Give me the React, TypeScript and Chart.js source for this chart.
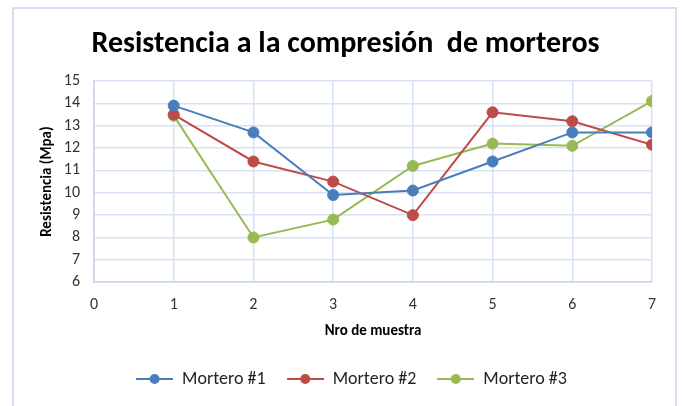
import { useEffect, useRef } from "react";
import { Chart, registerables } from "chart.js";
Chart.register(...registerables);

const samples = [1, 2, 3, 4, 5, 6, 7];
const mortero1 = [13.9, 12.7, 9.9, 10.1, 11.4, 12.7, 12.7];
const mortero2 = [13.5, 11.4, 10.5, 9.0, 13.6, 13.2, 12.15];
const mortero3 = [13.45, 8.0, 8.8, 11.2, 12.2, 12.1, 14.1];
const seriesNames = ["Mortero #1", "Mortero #2", "Mortero #3"];
const seriesColors = ["#4A7EBB", "#BE4B48", "#98B954"];
const titleText = "Resistencia a la compresión  de morteros";
const xTitle = "Nro de muestra";
const yTitle = "Resistencia (Mpa)";

const FONT = "Calibri, Carlito, Lato, sans-serif";

function legendIcon(color: string) {
  const c = document.createElement("canvas");
  c.width = 37;
  c.height = 12;
  const ctx = c.getContext("2d")!;
  ctx.strokeStyle = color;
  ctx.lineWidth = 2;
  ctx.beginPath();
  ctx.moveTo(0, 6);
  ctx.lineTo(37, 6);
  ctx.stroke();
  ctx.fillStyle = color;
  ctx.beginPath();
  ctx.arc(18.5, 6, 5, 0, Math.PI * 2);
  ctx.fill();
  return c;
}

// centre title and legend on the whole chart frame rather than the padded area
const shiftBlocks = {
  id: "shiftBlocks",
  afterLayout(chart: any) {
    const t = chart.titleBlock;
    if (t) {
      t.left += 10;
      t.right += 10;
    }
    const l = chart.legend;
    if (l) {
      l.left += 16;
      l.right += 16;
    }
  },
};

export default function App() {
  const ref = useRef<HTMLCanvasElement>(null);
  useEffect(() => {
    const all = [mortero1, mortero2, mortero3];
    const chart = new Chart(ref.current!, {
      type: "line",
      data: {
        datasets: all.map((vals, i) => ({
          label: seriesNames[i],
          data: samples.map((x, j) => ({ x, y: vals[j] })),
          borderColor: seriesColors[i],
          backgroundColor: seriesColors[i],
          borderWidth: 2,
          pointRadius: 5.5,
          pointHoverRadius: 5.5,
          pointBorderWidth: 1,
          pointStyle: "circle",
          tension: 0,
        })),
      },
      plugins: [shiftBlocks],
      options: {
        animation: false,
        responsive: false,
        maintainAspectRatio: false,
        layout: { padding: { left: 19, right: 30, top: 0, bottom: 8 } },
        plugins: {
          title: {
            display: true,
            text: titleText,
            color: "#000",
            font: { family: FONT, size: 30, weight: "bold" },
            padding: { top: 26, bottom: 19 },
          },
          legend: {
            position: "bottom",
            labels: {
              usePointStyle: true,
              pointStyleWidth: 37,
              color: "#222",
              font: { family: FONT, size: 18 },
              padding: 21,
              generateLabels: (ch: any) =>
                ch.data.datasets.map((d: any, i: number) => ({
                  text: d.label,
                  fillStyle: seriesColors[i],
                  strokeStyle: seriesColors[i],
                  pointStyle: legendIcon(seriesColors[i]),
                  datasetIndex: i,
                  hidden: false,
                  fontColor: "#222",
                })),
            },
          },
          tooltip: { enabled: false },
        },
        scales: {
          x: {
            type: "linear",
            min: 0,
            max: 7,
            afterFit: (s: any) => {
              s.height -= 3;
            },
            ticks: {
              stepSize: 1,
              autoSkip: false,
              color: "#333",
              font: { family: FONT, size: 16, lineHeight: 0.8 },
              padding: 16,
            },
            grid: { color: "#D6E2F3", lineWidth: 1.5, drawTicks: false },
            border: { color: "#C5D6EE", width: 1.5 },
            title: {
              display: true,
              text: xTitle,
              color: "#000",
              font: { family: FONT, size: 15, weight: "bold", lineHeight: 1.0 },
              padding: { top: 0, bottom: 10 },
            },
          },
          y: {
            min: 6,
            max: 15,
            afterFit: (s: any) => {
              s.width = 75;
            },
            ticks: {
              stepSize: 1,
              autoSkip: false,
              color: "#333",
              font: { family: FONT, size: 16 },
              padding: 14,
            },
            grid: { color: "#D6E2F3", lineWidth: 1.5, drawTicks: false },
            border: { color: "#C5D6EE", width: 1.5 },
            title: {
              display: true,
              text: yTitle,
              color: "#000",
              font: { family: FONT, size: 15, weight: "bold" },
              padding: { top: 19, bottom: 0 },
            },
          },
        },
      },
    });
    return () => chart.destroy();
  }, []);
  return (
    <div style={{ position: "fixed", left: 0, top: 0, width: 682, height: 406, background: "#fff" }}>
      <div
        style={{
          position: "absolute",
          left: 12,
          top: 7,
          width: 661,
          height: 410,
          border: "2px solid #D3E0F1",
        }}
      />
      <canvas ref={ref} width={682} height={406} style={{ position: "absolute", left: 0, top: 0 }} />
    </div>
  );
}
